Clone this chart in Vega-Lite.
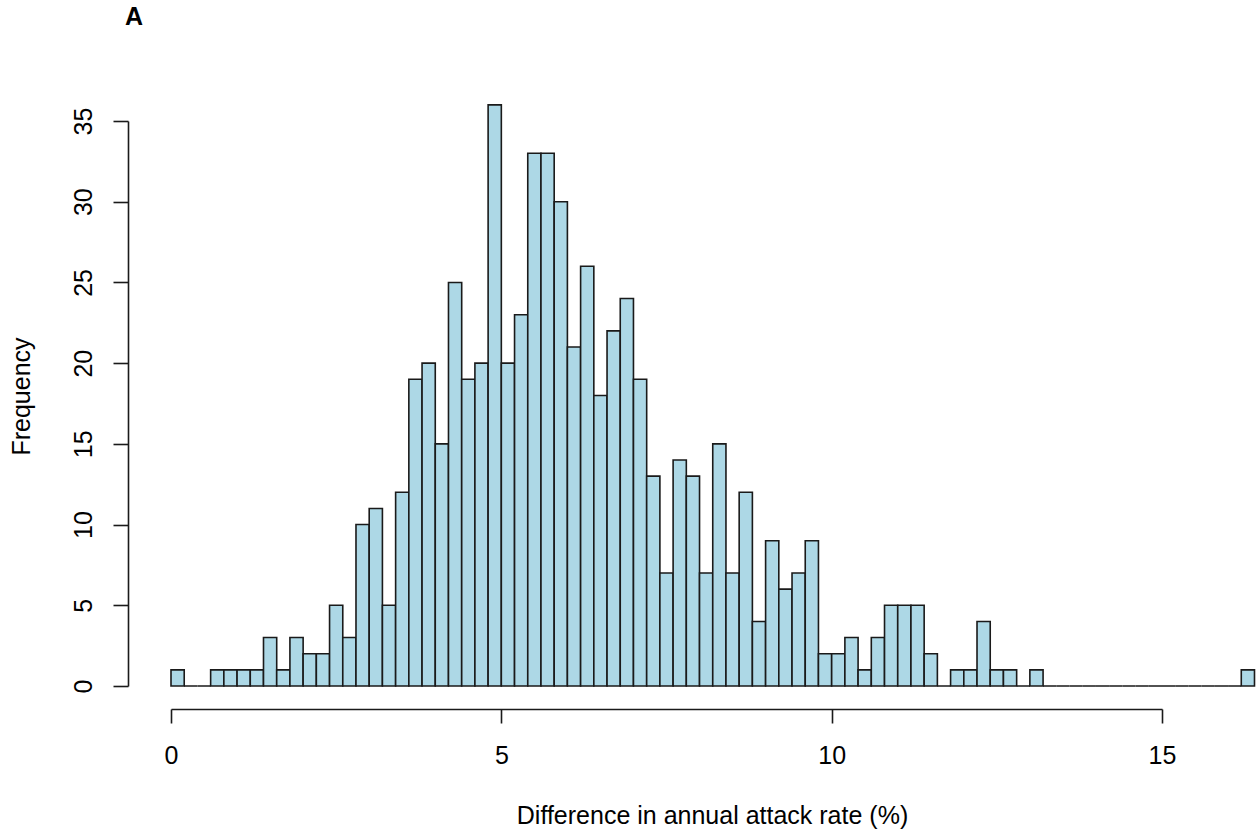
{
  "$schema": "https://vega.github.io/schema/vega-lite/v6.json",
  "width": 991,
  "height": 565,
  "autosize": {"type": "none"},
  "padding": {"left": 171, "top": 121, "right": 95, "bottom": 149},
  "background": "white",
  "title": {
    "text": "A",
    "anchor": "start",
    "frame": "group",
    "font": "Liberation Sans",
    "fontSize": 25,
    "fontWeight": "bold",
    "color": "black",
    "dx": -46,
    "baseline": "alphabetic",
    "offset": 54
  },
  "data": {
    "values": [
      {"lo": 0, "hi": 0.2, "n": 1},
      {"lo": 0.2, "hi": 0.4, "n": 0},
      {"lo": 0.4, "hi": 0.6, "n": 0},
      {"lo": 0.6, "hi": 0.8, "n": 1},
      {"lo": 0.8, "hi": 1.0, "n": 1},
      {"lo": 1.0, "hi": 1.2, "n": 1},
      {"lo": 1.2, "hi": 1.4, "n": 1},
      {"lo": 1.4, "hi": 1.6, "n": 3},
      {"lo": 1.6, "hi": 1.8, "n": 1},
      {"lo": 1.8, "hi": 2.0, "n": 3},
      {"lo": 2.0, "hi": 2.2, "n": 2},
      {"lo": 2.2, "hi": 2.4, "n": 2},
      {"lo": 2.4, "hi": 2.6, "n": 5},
      {"lo": 2.6, "hi": 2.8, "n": 3},
      {"lo": 2.8, "hi": 3.0, "n": 10},
      {"lo": 3.0, "hi": 3.2, "n": 11},
      {"lo": 3.2, "hi": 3.4, "n": 5},
      {"lo": 3.4, "hi": 3.6, "n": 12},
      {"lo": 3.6, "hi": 3.8, "n": 19},
      {"lo": 3.8, "hi": 4.0, "n": 20},
      {"lo": 4.0, "hi": 4.2, "n": 15},
      {"lo": 4.2, "hi": 4.4, "n": 25},
      {"lo": 4.4, "hi": 4.6, "n": 19},
      {"lo": 4.6, "hi": 4.8, "n": 20},
      {"lo": 4.8, "hi": 5.0, "n": 36},
      {"lo": 5.0, "hi": 5.2, "n": 20},
      {"lo": 5.2, "hi": 5.4, "n": 23},
      {"lo": 5.4, "hi": 5.6, "n": 33},
      {"lo": 5.6, "hi": 5.8, "n": 33},
      {"lo": 5.8, "hi": 6.0, "n": 30},
      {"lo": 6.0, "hi": 6.2, "n": 21},
      {"lo": 6.2, "hi": 6.4, "n": 26},
      {"lo": 6.4, "hi": 6.6, "n": 18},
      {"lo": 6.6, "hi": 6.8, "n": 22},
      {"lo": 6.8, "hi": 7.0, "n": 24},
      {"lo": 7.0, "hi": 7.2, "n": 19},
      {"lo": 7.2, "hi": 7.4, "n": 13},
      {"lo": 7.4, "hi": 7.6, "n": 7},
      {"lo": 7.6, "hi": 7.8, "n": 14},
      {"lo": 7.8, "hi": 8.0, "n": 13},
      {"lo": 8.0, "hi": 8.2, "n": 7},
      {"lo": 8.2, "hi": 8.4, "n": 15},
      {"lo": 8.4, "hi": 8.6, "n": 7},
      {"lo": 8.6, "hi": 8.8, "n": 12},
      {"lo": 8.8, "hi": 9.0, "n": 4},
      {"lo": 9.0, "hi": 9.2, "n": 9},
      {"lo": 9.2, "hi": 9.4, "n": 6},
      {"lo": 9.4, "hi": 9.6, "n": 7},
      {"lo": 9.6, "hi": 9.8, "n": 9},
      {"lo": 9.8, "hi": 10.0, "n": 2},
      {"lo": 10.0, "hi": 10.2, "n": 2},
      {"lo": 10.2, "hi": 10.4, "n": 3},
      {"lo": 10.4, "hi": 10.6, "n": 1},
      {"lo": 10.6, "hi": 10.8, "n": 3},
      {"lo": 10.8, "hi": 11.0, "n": 5},
      {"lo": 11.0, "hi": 11.2, "n": 5},
      {"lo": 11.2, "hi": 11.4, "n": 5},
      {"lo": 11.4, "hi": 11.6, "n": 2},
      {"lo": 11.6, "hi": 11.8, "n": 0},
      {"lo": 11.8, "hi": 12.0, "n": 1},
      {"lo": 12.0, "hi": 12.2, "n": 1},
      {"lo": 12.2, "hi": 12.4, "n": 4},
      {"lo": 12.4, "hi": 12.6, "n": 1},
      {"lo": 12.6, "hi": 12.8, "n": 1},
      {"lo": 12.8, "hi": 13.0, "n": 0},
      {"lo": 13.0, "hi": 13.2, "n": 1},
      {"lo": 13.2, "hi": 13.4, "n": 0},
      {"lo": 13.4, "hi": 13.6, "n": 0},
      {"lo": 13.6, "hi": 13.8, "n": 0},
      {"lo": 13.8, "hi": 14.0, "n": 0},
      {"lo": 14.0, "hi": 14.2, "n": 0},
      {"lo": 14.2, "hi": 14.4, "n": 0},
      {"lo": 14.4, "hi": 14.6, "n": 0},
      {"lo": 14.6, "hi": 14.8, "n": 0},
      {"lo": 14.8, "hi": 15.0, "n": 0},
      {"lo": 15.0, "hi": 15.2, "n": 0},
      {"lo": 15.2, "hi": 15.4, "n": 0},
      {"lo": 15.4, "hi": 15.6, "n": 0},
      {"lo": 15.6, "hi": 15.8, "n": 0},
      {"lo": 15.8, "hi": 16.0, "n": 0},
      {"lo": 16.0, "hi": 16.2, "n": 0},
      {"lo": 16.2, "hi": 16.4, "n": 1}
    ]
  },
  "mark": {"type": "bar", "fill": "#ADD8E6", "stroke": "#1a1a1a", "strokeWidth": 1.6, "clip": false},
  "encoding": {
    "x": {
      "field": "lo",
      "type": "quantitative",
      "scale": {"domain": [0, 15], "nice": false, "zero": false},
      "axis": {
        "title": "Difference in annual attack rate (%)",
        "values": [0, 5, 10, 15],
        "offset": 23,
        "tickSize": 14,
        "labelPadding": 40,
        "labelBaseline": "alphabetic",
        "labelAlign": "center",
        "titleX": 541,
        "titleY": 114,
        "titleAlign": "center",
        "titleBaseline": "alphabetic"
      }
    },
    "x2": {"field": "hi"},
    "y": {
      "field": "n",
      "type": "quantitative",
      "scale": {"domain": [0, 35], "nice": false},
      "axis": {
        "title": "Frequency",
        "values": [0, 5, 10, 15, 20, 25, 30, 35],
        "offset": 43,
        "tickSize": 15,
        "labelAngle": -90,
        "labelAlign": "center",
        "labelBaseline": "alphabetic",
        "labelPadding": 22,
        "titleAngle": -90,
        "titleX": -99,
        "titleY": 275,
        "titleAlign": "center",
        "titleBaseline": "alphabetic"
      }
    },
    "y2": {"datum": 0}
  },
  "config": {
    "view": {"stroke": null},
    "axis": {
      "grid": false,
      "domainColor": "#1a1a1a",
      "domainWidth": 1.6,
      "tickColor": "#1a1a1a",
      "tickWidth": 1.6,
      "labelFont": "Liberation Sans",
      "labelFontSize": 25,
      "labelColor": "black",
      "labelFlush": false,
      "labelOverlap": false,
      "titleFont": "Liberation Sans",
      "titleFontSize": 25,
      "titleFontWeight": "normal",
      "titleColor": "black"
    }
  }
}
